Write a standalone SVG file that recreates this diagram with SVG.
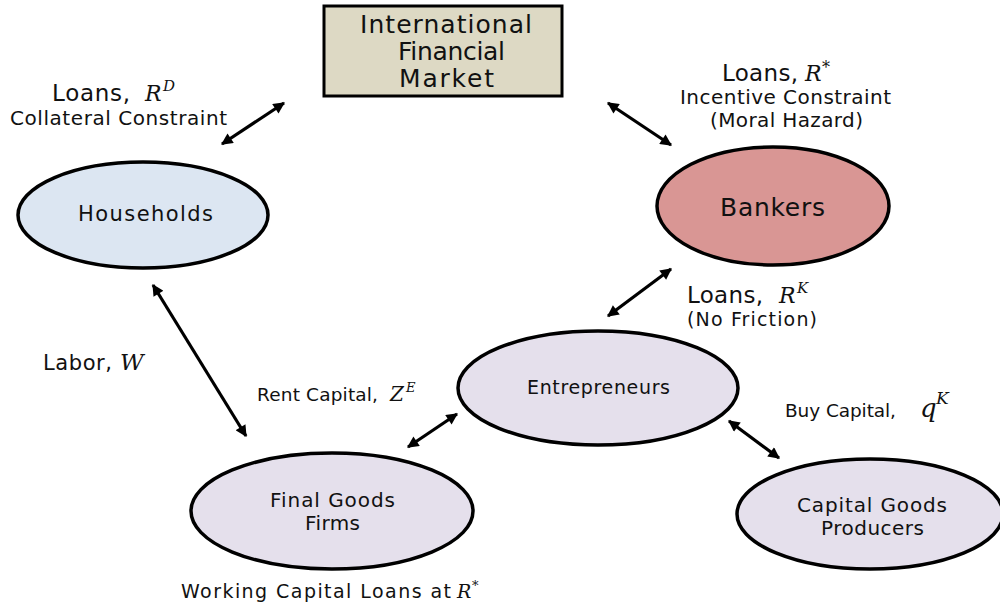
<svg xmlns="http://www.w3.org/2000/svg" width="1000" height="610" viewBox="0 0 1000 610">
  <style>
    .lbl { font-family: "DejaVu Sans", "Noto Sans", sans-serif; fill: #111; }
    .math { font-family: "DejaVu Serif", "Liberation Serif", serif; font-style: italic; fill: #111; }
    .node { stroke: #000; stroke-width: 3.5; }
    .conn { stroke: #000; stroke-width: 3.2; fill: none; marker-start: url(#head); marker-end: url(#head); }
  </style>
  <defs>
    <marker id="head" viewBox="0 0 10 10" refX="9" refY="5" markerWidth="4" markerHeight="3.6" markerUnits="strokeWidth" orient="auto-start-reverse">
      <path d="M0,0 L10,5 L0,10 z" fill="#000"/>
    </marker>
  </defs>

  <rect width="1000" height="610" fill="#fff"/>

  <!-- connectors -->
  <g id="connectors">
    <line class="conn" x1="222" y1="144" x2="284" y2="103"/>
    <line class="conn" x1="608" y1="103" x2="671" y2="145"/>
    <line class="conn" x1="153" y1="285" x2="246" y2="436"/>
    <line class="conn" x1="608" y1="316" x2="671" y2="269"/>
    <line class="conn" x1="408" y1="447" x2="457" y2="414"/>
    <line class="conn" x1="729" y1="421" x2="779" y2="458"/>
  </g>

  <!-- international financial market -->
  <g id="ifm">
    <rect x="324" y="6" width="238" height="90" fill="#DDD9C4" stroke="#000" stroke-width="3"/>
    <text class="lbl" x="360" y="33" font-size="25" textLength="172">International</text>
    <text class="lbl" x="398" y="60" font-size="25" textLength="107">Financial</text>
    <text class="lbl" x="399" y="87" font-size="25" textLength="95">Market</text>
  </g>

  <!-- households -->
  <g id="households">
    <ellipse class="node" cx="143" cy="215" rx="125" ry="53" fill="#DCE6F2"/>
    <text class="lbl" x="78" y="221" font-size="21" textLength="135">Households</text>
  </g>

  <!-- bankers -->
  <g id="bankers">
    <ellipse class="node" cx="773" cy="206" rx="116" ry="59" fill="#D99694"/>
    <text class="lbl" x="720" y="216" font-size="25" textLength="105">Bankers</text>
  </g>

  <!-- entrepreneurs -->
  <g id="entrepreneurs">
    <ellipse class="node" cx="598" cy="388" rx="140" ry="57" fill="#E5E0EC"/>
    <text class="lbl" x="527" y="394" font-size="19" textLength="143">Entrepreneurs</text>
  </g>

  <!-- final goods firms -->
  <g id="final-goods">
    <ellipse class="node" cx="332" cy="511" rx="141" ry="58" fill="#E5E0EC"/>
    <text class="lbl" x="270" y="507" font-size="20" textLength="125">Final Goods</text>
    <text class="lbl" x="305" y="530" font-size="20" textLength="55">Firms</text>
  </g>

  <!-- capital goods producers -->
  <g id="capital-goods">
    <ellipse class="node" cx="870" cy="514" rx="133" ry="55" fill="#E5E0EC"/>
    <text class="lbl" x="797" y="512" font-size="20" textLength="150">Capital Goods</text>
    <text class="lbl" x="821" y="535" font-size="20" textLength="103">Producers</text>
  </g>

  <!-- edge labels -->
  <g id="labels">
    <text class="lbl" x="52" y="101" font-size="23" textLength="78">Loans,</text>
    <text class="math" x="145" y="101" font-size="22">R</text>
    <text class="math" x="163" y="91" font-size="15">D</text>
    <text class="lbl" x="10" y="125" font-size="20" textLength="217">Collateral Constraint</text>

    <text class="lbl" x="722" y="81" font-size="23" textLength="76">Loans,</text>
    <text class="math" x="805" y="81" font-size="22">R</text>
    <text class="math" x="822" y="73" font-size="16">*</text>
    <text class="lbl" x="680" y="104" font-size="20" textLength="211">Incentive Constraint</text>
    <text class="lbl" x="710" y="127" font-size="20" textLength="153">(Moral Hazard)</text>

    <text class="lbl" x="687" y="303" font-size="23" textLength="76">Loans,</text>
    <text class="math" x="779" y="303" font-size="22">R</text>
    <text class="math" x="797" y="293" font-size="15">K</text>
    <text class="lbl" x="687" y="326" font-size="19" textLength="130">(No Friction)</text>

    <text class="lbl" x="43" y="370" font-size="21" textLength="69">Labor,</text>
    <text class="math" x="120" y="370" font-size="23">W</text>

    <text class="lbl" x="257" y="401" font-size="18.5" textLength="121">Rent Capital,</text>
    <text class="math" x="390" y="401" font-size="20">Z</text>
    <text class="math" x="406" y="392" font-size="13">E</text>

    <text class="lbl" x="785" y="417" font-size="18.5" textLength="111">Buy Capital,</text>
    <text class="math" x="920" y="417" font-size="26">q</text>
    <text class="math" x="936" y="404" font-size="17">K</text>

    <text class="lbl" x="181" y="598" font-size="19" textLength="270">Working Capital Loans at</text>
    <text class="math" x="457" y="598" font-size="19">R</text>
    <text class="math" x="472" y="590" font-size="13">*</text>
  </g>
</svg>
